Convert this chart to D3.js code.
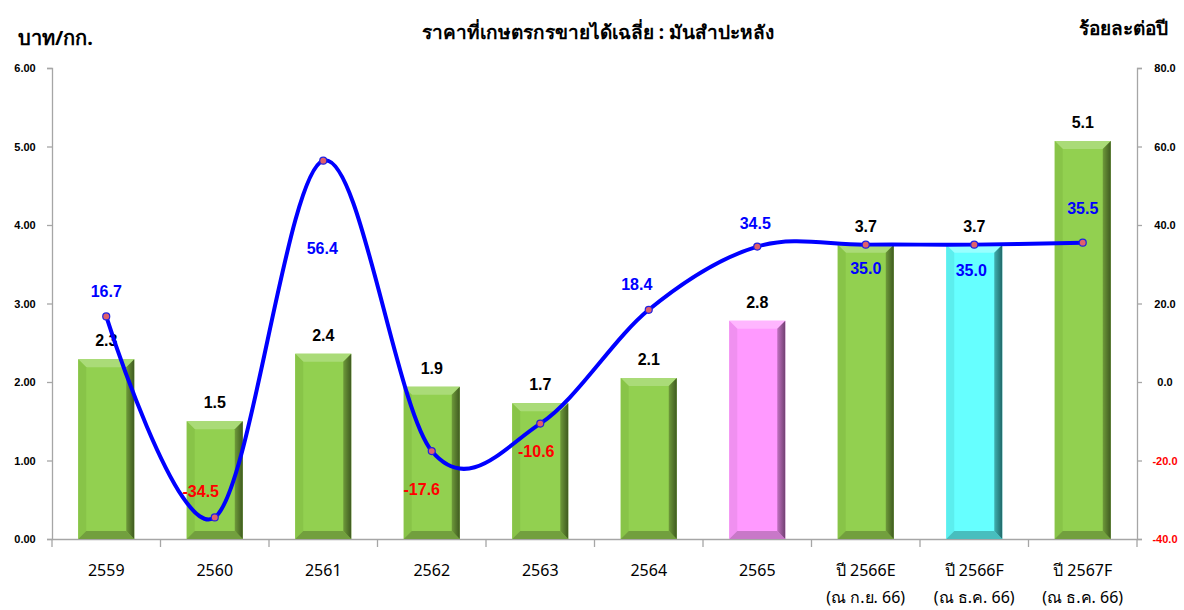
<!DOCTYPE html>
<html><head><meta charset="utf-8">
<script src="https://cdn.jsdelivr.net/npm/d3@7"></script>
<style>
body{margin:0;background:#fff;}
svg{display:block;}
</style></head>
<body>
<svg id="chart" width="1184" height="610"></svg>
<script>
const categories = ["2559","2560","2561","2562","2563","2564","2565","ปี 2566E","ปี 2566F","ปี 2567F"];
const subLabels = ["","","","","","","","(ณ ก.ย. 66)","(ณ ธ.ค. 66)","(ณ ธ.ค. 66)"];
const priceValues = [2.29, 1.50, 2.36, 1.94, 1.73, 2.05, 2.78, 3.75, 3.75, 5.07];
const priceLabels = ["2.3","1.5","2.4","1.9","1.7","2.1","2.8","3.7","3.7","5.1"];
const changeValues = [16.7, -34.5, 56.4, -17.6, -10.6, 18.4, 34.5, 35.0, 35.0, 35.5];
const leftTicks = [0,1,2,3,4,5,6];
const rightTicks = [-40,-20,0,20,40,60,80];
const barColorKeys = ["g","g","g","g","g","g","p","g","c","g"];
// label placement (pixel offsets relative to point)
const lineLabelDx = [0,-14,-1,-10,-4,-12,-2,0,-3,0];
const lineLabelDy = [-25,-26,87,38,27,-26,-24,23,25,-35];

const palette = {
  g:{face:"#92D050", top:"#AADB78", left:"#88C448", right1:"#6E9A3A", right2:"#3F5A20", bottom:"#729F3E"},
  p:{face:"#FF99FF", top:"#FFB6FF", left:"#F090F0", right1:"#C070C0", right2:"#704070", bottom:"#C878C8"},
  c:{face:"#66FFFF", top:"#99FFFF", left:"#5CEEEE", right1:"#40B0B0", right2:"#206868", bottom:"#48BEBE"}
};

const loc = d3.formatLocale({decimal:".", thousands:",", grouping:[3], currency:["",""], minus:"-"});
const f1 = loc.format(".1f"), f2 = loc.format(".2f");

const svg = d3.select("#chart");
const defs = svg.append("defs");
Object.entries(palette).forEach(([k,p])=>{
  const lg = defs.append("linearGradient").attr("id","rg_"+k).attr("x1","0").attr("x2","1").attr("y1","0").attr("y2","0");
  lg.append("stop").attr("offset","0").attr("stop-color",p.right1);
  lg.append("stop").attr("offset","1").attr("stop-color",p.right2);
});

const x0 = 52, x1 = 1137, yTop = 68, yBot = 539;
const x = d3.scaleBand().domain(categories).range([x0, x1]).padding(0);
const yL = d3.scaleLinear().domain([0,6]).range([yBot, yTop]);
const yR = d3.scaleLinear().domain([-40,80]).range([yBot, yTop]);
const numFont = "'Liberation Sans', Arial, sans-serif";
const thaiFont = "Tahoma, 'Noto Sans', 'DejaVu Sans', sans-serif";

// Axes
const axisColor = "#A6A6A6";
const gL = svg.append("g").attr("transform", `translate(${x0},0)`)
  .call(d3.axisLeft(yL).tickValues(leftTicks).tickFormat(f2).tickSize(5).tickPadding(14));
const gR = svg.append("g").attr("transform", `translate(${x1},0)`)
  .call(d3.axisRight(yR).tickValues(rightTicks).tickFormat(f1).tickSize(5).tickPadding(13));
[gL,gR].forEach(g=>{
  g.select(".domain").attr("stroke", axisColor).attr("stroke-width",1.3);
  g.selectAll(".tick line").attr("stroke", axisColor).attr("stroke-width",1.3);
  g.selectAll(".tick text").attr("font-family", numFont).attr("font-weight","bold").attr("font-size",11).attr("fill","#000");
});
gL.selectAll(".tick text").attr("text-anchor","middle").attr("dx","-8");
gR.selectAll(".tick text").attr("text-anchor","middle").attr("dx","10")
  .attr("fill", d => d < 0 ? "#FF0000" : "#000");

const gX = svg.append("g").attr("transform", `translate(0,${yBot})`)
  .call(d3.axisBottom(x).tickSize(0).tickFormat(""));
gX.select(".domain").attr("stroke", axisColor).attr("stroke-width",1.3);
// category boundary ticks
const bounds = categories.map(c => x(c)).concat([x1]);
svg.append("g").selectAll("line").data(bounds).join("line")
  .attr("x1", d=>d).attr("x2", d=>d).attr("y1", yBot).attr("y2", yBot+8)
  .attr("stroke", axisColor).attr("stroke-width",1.3);

// X labels
svg.append("g").selectAll("text").data(categories).join("text")
  .attr("x", d => x(d) + x.bandwidth()/2).attr("y", 576)
  .attr("text-anchor","middle").attr("font-family", thaiFont).attr("font-size",16).attr("fill","#000")
  .text(d=>d);
svg.append("g").selectAll("text").data(categories).join("text")
  .attr("x", d => x(d) + x.bandwidth()/2).attr("y", 603)
  .attr("text-anchor","middle").attr("font-family", thaiFont).attr("font-size",16).attr("fill","#000")
  .text((d,i)=>subLabels[i]);

// Bars with bevel
const bw = 56, bev = 8;
const bars = svg.append("g");
categories.forEach((c,i)=>{
  const cx = x(c) + x.bandwidth()/2;
  const L = cx - bw/2, R = cx + bw/2, T = yL(priceValues[i]), B = yBot;
  const k = barColorKeys[i], p = palette[k];
  const g = bars.append("g");
  g.append("rect").attr("x",L).attr("y",T).attr("width",bw).attr("height",B-T).attr("fill",p.face);
  const poly = (pts, fill, op) => g.append("polygon").attr("points", pts.map(q=>q.join(",")).join(" ")).attr("fill",fill).attr("opacity",op||1);
  poly([[L,T],[R,T],[R-bev,T+bev],[L+bev,T+bev]], p.top);
  poly([[L,T],[L+bev,T+bev],[L+bev,B-bev],[L,B]], p.left);
  poly([[L,B],[L+bev,B-bev],[R-bev,B-bev],[R,B]], p.bottom);
  poly([[R,T],[R,B],[R-bev,B-bev],[R-bev,T+bev]], `url(#rg_${k})`);
  // bar label
  svg.append("text").attr("x", cx).attr("y", T - 13)
    .attr("text-anchor","middle").attr("font-family", numFont).attr("font-weight","bold").attr("font-size",16).attr("fill","#000")
    .text(priceLabels[i]);
});

// Smooth line
const pts = categories.map((c,i)=>[x(c)+x.bandwidth()/2, yR(changeValues[i])]);
svg.append("path").datum(pts)
  .attr("d", d3.line().curve(d3.curveCatmullRom.alpha(0)))
  .attr("fill","none").attr("stroke","#0000FF").attr("stroke-width",4);
svg.append("g").selectAll("circle").data(pts).join("circle")
  .attr("cx", d=>d[0]).attr("cy", d=>d[1]).attr("r",3.5)
  .attr("fill","#E0606A").attr("stroke","#2020E0").attr("stroke-width",1.2);

// Line labels
svg.append("g").selectAll("text").data(changeValues).join("text")
  .attr("x", (d,i)=>pts[i][0] + lineLabelDx[i]).attr("y", (d,i)=>pts[i][1] + lineLabelDy[i] + 6)
  .attr("text-anchor","middle").attr("font-family", numFont).attr("font-weight","bold").attr("font-size",16)
  .attr("fill", d => d < 0 ? "#FF0000" : "#0000FF")
  .text(d => f1(d));

// Titles
svg.append("text").attr("x", 598).attr("y", 39).attr("text-anchor","middle")
  .attr("font-family", thaiFont).attr("font-weight","bold").attr("font-size",19).attr("fill","#000")
  .text("ราคาที่เกษตรกรขายได้เฉลี่ย : มันสำปะหลัง");
svg.append("text").attr("x", 18).attr("y", 45)
  .attr("font-family", thaiFont).attr("font-weight","bold").attr("font-size",20).attr("fill","#000")
  .text("บาท/กก.");
svg.append("text").attr("x", 1168).attr("y", 35).attr("text-anchor","end")
  .attr("font-family", thaiFont).attr("font-weight","bold").attr("font-size",19).attr("fill","#000")
  .text("ร้อยละต่อปี");
</script>
</body></html>
